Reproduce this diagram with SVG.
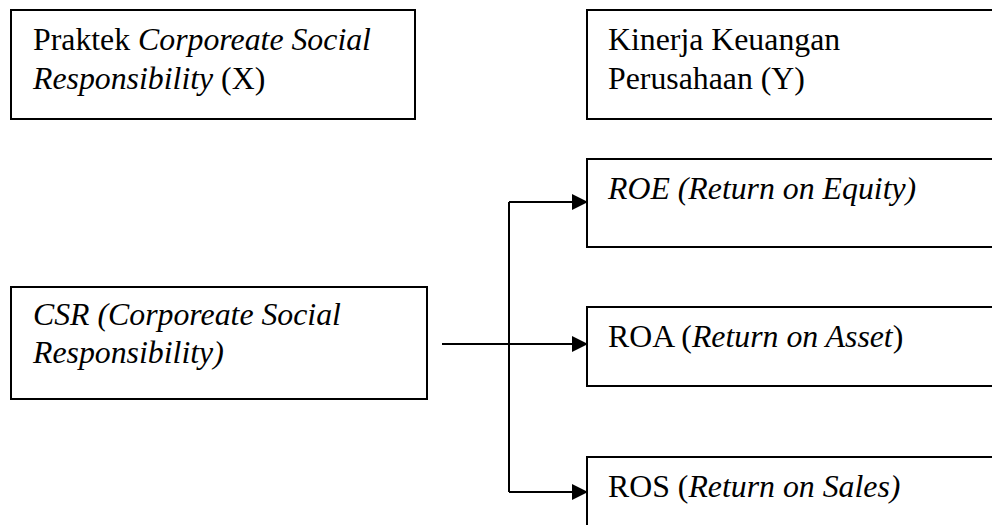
<svg xmlns="http://www.w3.org/2000/svg" width="992" height="525" viewBox="0 0 992 525">
<defs>
<marker id="ah" viewBox="0 0 16 16" refX="15" refY="8" markerWidth="16" markerHeight="16" markerUnits="userSpaceOnUse" orient="auto">
<path d="M0,0 L16,8 L0,16 Z" fill="#000"/>
</marker>
</defs>
<rect width="992" height="525" fill="#fff"/>
<g id="node-x">
<rect x="11" y="10" width="404" height="109" fill="#fff" stroke="#000" stroke-width="2"/>
<text x="33" y="50" font-family="Liberation Serif" font-size="31.8">Praktek <tspan font-style="italic">Corporeate Social</tspan></text>
<text x="33" y="89" font-family="Liberation Serif" font-size="31.8"><tspan font-style="italic">Responsibility</tspan> (X)</text>
</g>
<g id="node-y">
<rect x="587" y="10" width="420" height="109" fill="#fff" stroke="#000" stroke-width="2"/>
<text x="608" y="50" font-family="Liberation Serif" font-size="31.8">Kinerja Keuangan</text>
<text x="608" y="89" font-family="Liberation Serif" font-size="31.8">Perusahaan (Y)</text>
</g>
<g id="node-roe">
<rect x="587" y="159" width="420" height="88" fill="#fff" stroke="#000" stroke-width="2"/>
<text x="608" y="199" font-family="Liberation Serif" font-size="31.8" font-style="italic">ROE (Return on Equity)</text>
</g>
<g id="node-roa">
<rect x="587" y="307" width="420" height="79" fill="#fff" stroke="#000" stroke-width="2"/>
<text x="608" y="347" font-family="Liberation Serif" font-size="31.8">ROA (<tspan font-style="italic">Return on Asset</tspan>)</text>
</g>
<g id="node-ros">
<rect x="587" y="457" width="420" height="90" fill="#fff" stroke="#000" stroke-width="2"/>
<text x="608" y="497" font-family="Liberation Serif" font-size="31.8">ROS (<tspan font-style="italic">Return on Sales)</tspan></text>
</g>
<g id="node-csr">
<rect x="11" y="287" width="416" height="112" fill="#fff" stroke="#000" stroke-width="2"/>
<text x="33" y="325" font-family="Liberation Serif" font-size="31.8" font-style="italic">CSR (Corporeate Social</text>
<text x="33" y="363" font-family="Liberation Serif" font-size="31.8" font-style="italic">Responsibility)</text>
</g>
<g id="connectors" fill="none" stroke="#000" stroke-width="2">
<path d="M442,344 H587" marker-end="url(#ah)"/>
<path d="M509,202 V492"/>
<path d="M509,202 H587" marker-end="url(#ah)"/>
<path d="M509,492 H587" marker-end="url(#ah)"/>
</g>
</svg>
